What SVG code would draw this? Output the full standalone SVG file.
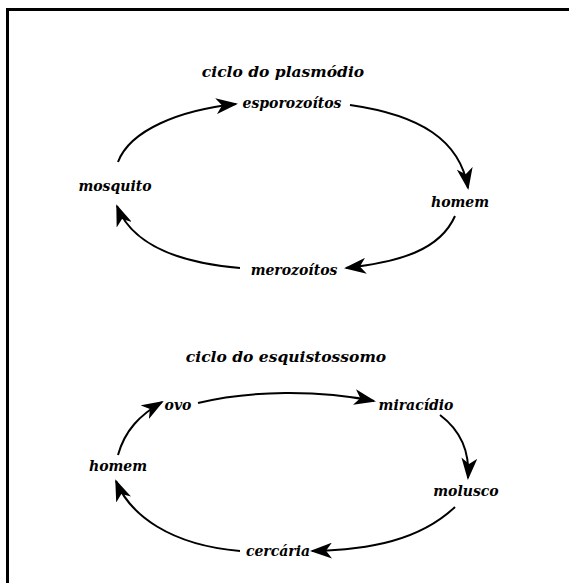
<svg xmlns="http://www.w3.org/2000/svg" width="569" height="583" viewBox="0 0 569 583">
<defs>
<style>
.t{font-family:"DejaVu Serif","Liberation Serif",serif;font-style:italic;font-weight:bold;font-size:14px;fill:#000;text-anchor:middle}
.h{font-size:15.5px}
.c{fill:none;stroke:#000;stroke-width:2}
</style>
<marker id="ah" viewBox="0 0 22 16" refX="20" refY="8" markerWidth="22" markerHeight="16" markerUnits="userSpaceOnUse" orient="auto">
<path d="M0,0 L22,8 L0,16 L6,8 Z" fill="#000"/>
</marker>
</defs>
<rect x="0" y="0" width="569" height="583" fill="#fff"/>
<rect x="7.5" y="9.5" width="580" height="600" fill="none" stroke="#000" stroke-width="3"/>
<g id="connectors">
<path class="c" d="M118,162 C130,130 180,110 236,104" style="marker-end:url(#ah)"/>
<path class="c" d="M350,105 C420,115 460,140 468,188" style="marker-end:url(#ah)"/>
<path class="c" d="M455,216 C440,250 400,262 346,268" style="marker-end:url(#ah)"/>
<path class="c" d="M240,268 C170,262 130,240 117,206" style="marker-end:url(#ah)"/>
<path class="c" d="M198,403 C250,390 320,390 374,401" style="marker-end:url(#ah)"/>
<path class="c" d="M440,415 C460,430 470,450 468,478" style="marker-end:url(#ah)"/>
<path class="c" d="M455,507 C420,540 370,550 312,551" style="marker-end:url(#ah)"/>
<path class="c" d="M240,551 C170,545 130,515 116,481" style="marker-end:url(#ah)"/>
<path class="c" d="M118,455 C125,430 140,415 162,402" style="marker-end:url(#ah)"/>
</g>
<g id="title1"><text class="t h" x="283" y="77">ciclo do plasmódio</text></g>
<g id="esporozoitos"><text class="t" x="292" y="108">esporozoítos</text></g>
<g id="homem1"><text class="t" x="460" y="207">homem</text></g>
<g id="merozoitos"><text class="t" x="294" y="275">merozoítos</text></g>
<g id="mosquito"><text class="t" x="115" y="191">mosquito</text></g>
<g id="title2"><text class="t h" x="286" y="362">ciclo do esquistossomo</text></g>
<g id="ovo"><text class="t" x="178" y="410">ovo</text></g>
<g id="miracidio"><text class="t" x="416" y="410">miracídio</text></g>
<g id="molusco"><text class="t" x="466" y="496">molusco</text></g>
<g id="cercaria"><text class="t" x="278" y="556">cercária</text></g>
<g id="homem2"><text class="t" x="118" y="471">homem</text></g>
</svg>
